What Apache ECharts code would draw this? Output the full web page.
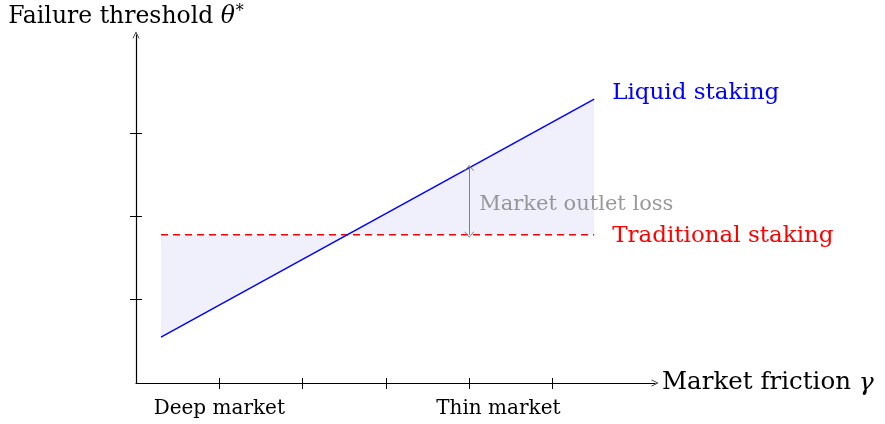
<!DOCTYPE html>
<html>
<head>
<meta charset="utf-8">
<script src="https://cdn.jsdelivr.net/npm/echarts@6/dist/echarts.min.js"></script>
<style>
  html, body { margin: 0; padding: 0; background: #fff; }
  #chart { width: 885px; height: 424px; }
</style>
</head>
<body>
<div id="chart"></div>
<script>
// Stylised model: failure threshold against market friction
const frictionTicks = [1, 2, 3, 4, 5];
const thresholdTicks = [1, 2, 3];
const marketLabelPos = [1, 4.35];
const marketLabelText = ['Deep market', 'Thin market'];
const liquidStaking = [[0.3, 0.55], [5.5, 3.41]];
const traditionalStaking = [[0.3, 1.78], [5.5, 1.78]];
const outletLossX = 4;

const FONT = 'DejaVu Serif';
const BIG = 23;
const SMALL = 20;

function liquidAt(x) {
  const [a, b] = liquidStaking;
  return a[1] + (b[1] - a[1]) * (x - a[0]) / (b[0] - a[0]);
}

const chevron = 'path://M0,10 L5,0 L10,10 L9,10 L5,2 L1,10 Z';

const chart = echarts.init(document.getElementById('chart'), null, { renderer: 'canvas' });

const xCommon = { type: 'value', min: 0, max: 6.23, splitLine: { show: false } };
const yCommon = { type: 'value', min: 0, max: 4.18, splitLine: { show: false } };

chart.setOption({
  animation: false,
  backgroundColor: '#fff',
  grid: { left: 136, top: 35, width: 519, height: 348 },
  xAxis: [
    Object.assign({}, xCommon, {
      position: 'bottom',
      name: '{t|Market friction }{i|γ}',
      nameLocation: 'end',
      nameGap: 7,
      nameTextStyle: {
        align: 'left', verticalAlign: 'middle',
        rich: {
          t: { fontFamily: FONT, fontSize: 24.5, color: '#000' },
          i: { fontFamily: FONT, fontStyle: 'italic', fontSize: 25, color: '#000' }
        }
      },
      axisLine: { show: true, lineStyle: { color: '#000', width: 1.2 }, symbol: ['none', chevron], symbolSize: [11, 7] },
      axisTick: { show: true, inside: true, length: 5, lineStyle: { color: '#000', width: 1 }, customValues: frictionTicks },
      axisLabel: {
        show: true, customValues: marketLabelPos, margin: 16,
        fontFamily: FONT, fontSize: SMALL, color: '#000',
        formatter: v => marketLabelText[marketLabelPos.indexOf(v)] || ''
      }
    }),
    Object.assign({}, xCommon, {
      position: 'top',
      axisLine: { show: false, onZero: true },
      axisTick: { show: true, inside: true, length: 6, lineStyle: { color: '#000', width: 1 }, customValues: frictionTicks },
      axisLabel: { show: false }
    })
  ],
  yAxis: [
    Object.assign({}, yCommon, {
      position: 'left',
      name: '{t|Failure threshold }{i|θ}{s|*}',
      nameLocation: 'end',
      nameGap: 6,
      nameTextStyle: {
        padding: [0, 20, 0, 0],
        rich: {
          t: { fontFamily: FONT, fontSize: 23.5, color: '#000' },
          i: { fontFamily: FONT, fontStyle: 'italic', fontSize: 23.5, color: '#000' },
          s: { fontFamily: FONT, fontSize: 16, color: '#000', verticalAlign: 'top', padding: [0, 0, 9, 1] }
        }
      },
      axisLine: { show: true, lineStyle: { color: '#000', width: 1.2 }, symbol: ['none', chevron], symbolSize: [11, 7] },
      axisTick: { show: true, inside: true, length: 6, lineStyle: { color: '#000', width: 1 }, customValues: thresholdTicks },
      axisLabel: { show: false }
    }),
    Object.assign({}, yCommon, {
      position: 'left',
      axisLine: { show: false, onZero: false },
      axisTick: { show: true, inside: false, length: 6, lineStyle: { color: '#000', width: 1 }, customValues: thresholdTicks },
      axisLabel: { show: false }
    })
  ],
  series: [
    {
      // shaded gap between the two thresholds
      type: 'custom',
      z: 1,
      silent: true,
      data: [0],
      renderItem: function (params, api) {
        const pts = [
          api.coord(traditionalStaking[0]),
          api.coord(liquidStaking[0]),
          api.coord(liquidStaking[1]),
          api.coord(traditionalStaking[1])
        ];
        return { type: 'polygon', shape: { points: pts }, style: { fill: '#f0f0fd' } };
      }
    },
    {
      name: 'Traditional staking',
      type: 'line',
      z: 3,
      data: traditionalStaking,
      symbol: 'none',
      lineStyle: { color: '#ff0000', width: 1.5, type: [7, 5] },
      endLabel: { show: true, formatter: 'Traditional staking', distance: 18, offset: [0, 1], fontFamily: FONT, fontSize: BIG, color: '#ff0000' }
    },
    {
      name: 'Liquid staking',
      type: 'line',
      z: 4,
      data: liquidStaking,
      symbol: 'none',
      lineStyle: { color: '#0000ff', width: 1.5 },
      endLabel: { show: true, formatter: 'Liquid staking', distance: 18, offset: [0, -6], fontFamily: FONT, fontSize: BIG, color: '#0000ff' }
    },
    {
      // vertical gap marker with its caption
      type: 'line',
      z: 5,
      data: [],
      markLine: {
        silent: true,
        symbol: [chevron, chevron],
        symbolSize: [10, 6],
        lineStyle: { color: '#808080', width: 1, type: 'solid' },
        label: { show: false },
        data: [[
          { coord: [outletLossX, traditionalStaking[0][1]] },
          { coord: [outletLossX, liquidAt(outletLossX)] }
        ]]
      }
    },
    {
      type: 'scatter',
      z: 5,
      symbolSize: 0,
      data: [[outletLossX, (traditionalStaking[0][1] + liquidAt(outletLossX)) / 2]],
      label: {
        show: true, position: 'right', distance: 10, offset: [0, 3],
        formatter: 'Market outlet loss',
        fontFamily: FONT, fontSize: 21, color: '#808080'
      }
    }
  ]
});
</script>
</body>
</html>
